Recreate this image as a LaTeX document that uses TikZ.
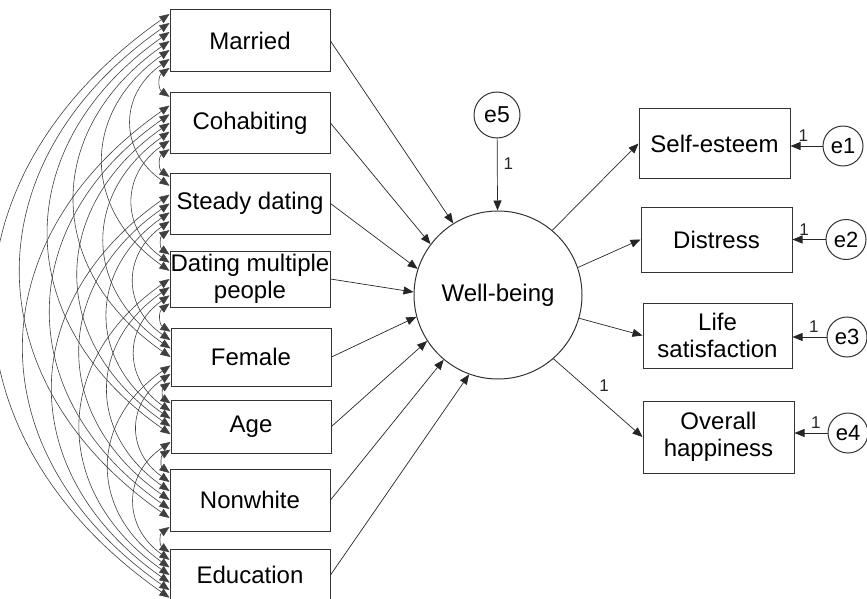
\documentclass[tikz,border=0pt]{standalone}
\usepackage{fontspec}
\setmainfont{Liberation Sans}
\usetikzlibrary{arrows.meta,calc}

\tikzset{
  obs/.style={draw=black!80, line width=0.5pt, minimum width=80pt, inner sep=0pt,
    align=center, font=\fontsize{12}{13.5}\selectfont},
  lat/.style={circle, draw=black!80, line width=0.5pt, inner sep=0pt},
  regr/.style={-{Triangle[length=5pt,width=4pt]}, line width=0.35pt, black!85},
  cov/.style={{Triangle[length=5pt,width=4pt]}-{Triangle[length=5pt,width=4pt]},
    line width=0.3pt, black!75},
  wt/.style={font=\fontsize{8.5}{9}\selectfont, inner sep=1pt}
}

\begin{document}
\begin{tikzpicture}[x=0.5pt, y=-0.5pt]
  \useasboundingbox (0,0) rectangle (867,599);
  % predictors
  \node[obs, minimum height=31pt] (married) at (250,41) {Married};
  \node[obs, minimum height=30pt] (cohab) at (250,123) {Cohabiting};
  \node[obs, minimum height=30.5pt] (steady) at (250,203.5) {Steady dating};
  \node[obs, minimum height=28pt] (multiple) at (250,279) {Dating multiple\\people};
  \node[obs, minimum height=29pt] (female) at (251,357) {Female};
  \node[obs, minimum height=26.5pt] (age) at (251,426.5) {Age};
  \node[obs, minimum height=31pt] (nonwhite) at (250,500) {Nonwhite};
  \node[obs, minimum height=26pt] (educ) at (250,575) {Education};
  % latent variable and disturbance
  \node[lat, minimum size=84pt, font=\fontsize{12}{13.5}\selectfont] (wb) at (498,295) {Well-being};
  \node[lat, minimum size=23pt, font=\fontsize{11.5}{12}\selectfont] (e5) at (497,115) {e5};
  % indicators
  \node[obs, minimum width=75.5pt, minimum height=34.5pt] (selfest) at (714.5,143.5) {Self-esteem};
  \node[obs, minimum width=75.5pt, minimum height=32.5pt] (distress) at (716.5,239.5) {Distress};
  \node[obs, minimum width=74.5pt, minimum height=32.5pt] (lifesat) at (717.5,335.5) {Life\\satisfaction};
  \node[obs, minimum width=75.5pt, minimum height=36pt] (happy) at (718.5,437) {Overall\\happiness};
  \node[lat, minimum size=20pt, font=\fontsize{11}{12}\selectfont] (e1) at (843,146) {e1};
  \node[lat, minimum size=20pt, font=\fontsize{11}{12}\selectfont] (e2) at (846,239.5) {e2};
  \node[lat, minimum size=20pt, font=\fontsize{11}{12}\selectfont] (e3) at (847,337) {e3};
  \node[lat, minimum size=20pt, font=\fontsize{11}{12}\selectfont] (e4) at (848,433) {e4};

  % paths into well-being
  \draw[regr] (married.east) -- (wb.122);
  \draw[regr] (cohab.east) -- (wb.143);
  \draw[regr] (steady.east) -- (wb.162);
  \draw[regr] (multiple.east) -- (wb.178);
  \draw[regr] (female.east) -- (wb.195);
  \draw[regr] (age.east) -- (wb.213);
  \draw[regr] (nonwhite.east) -- (wb.230);
  \draw[regr] (educ.east) -- (wb.250);
  \draw[regr] (e5) -- (wb) node[wt, pos=0.35, right=2pt] {1};

  % measurement part
  \draw[regr] (wb.50) -- (selfest.west);
  \draw[regr] (wb.19) -- (distress.west);
  \draw[regr] (wb.-16) -- (lifesat.west);
  \draw[regr] (wb.-49) -- (happy.west) node[wt, pos=0.57, above=5pt] {1};
  \draw[regr] (e1) -- (e1 -| selfest.east) node[wt, pos=0.6, above=1pt] {1};
  \draw[regr] (e2) -- (e2 -| distress.east) node[wt, pos=0.65, above=1pt] {1};
  \draw[regr] (e3) -- (e3 -| lifesat.east) node[wt, pos=0.37, above=1pt] {1};
  \draw[regr] (e4) -- (e4 -| happy.east) node[wt, pos=0.35, above=1pt] {1};

  % covariances between predictors
  \foreach \nm in {married,cohab,steady,multiple,female,age,nonwhite,educ}
    \foreach \k in {0,...,6}
      \coordinate (\nm-\k) at ($(\nm.north west)!{(\k+0.5)/7}!(\nm.south west)$);
  \foreach \pa [count=\i] in {married,cohab,steady,multiple,female,age,nonwhite,educ}
    \foreach \pb [count=\j] in {married,cohab,steady,multiple,female,age,nonwhite,educ} {
      \ifnum\j>\i
        \pgfmathtruncatemacro\ka{\i+7-\j}
        \pgfmathtruncatemacro\kb{\j-\i-1}
        \draw[cov] (\pa-\ka) to[bend right=55, looseness=1.25] (\pb-\kb);
      \fi
    }
\end{tikzpicture}
\end{document}
